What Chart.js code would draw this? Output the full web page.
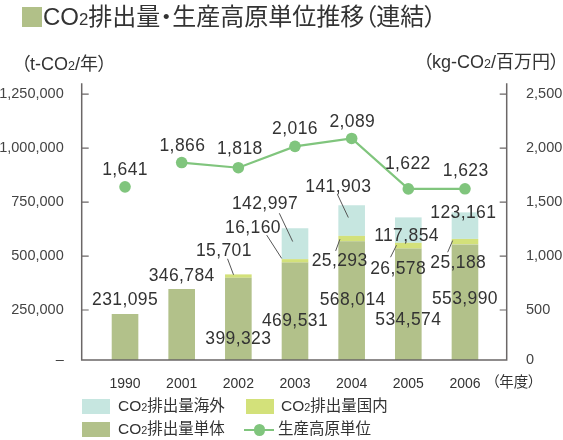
<!DOCTYPE html>
<html>
<head>
<meta charset="utf-8">
<script src="https://cdn.jsdelivr.net/npm/chart.js@4/dist/chart.umd.min.js"></script>
<style>
  html, body { margin: 0; padding: 0; background: #fff; }
  #wrap {
    position: relative; width: 563px; height: 440px; overflow: hidden;
    font-family: "Liberation Sans", "Noto Sans CJK JP", sans-serif; color: #333;
  }
  #chart { position: absolute; left: 0; top: 0; }
  .abs { position: absolute; white-space: nowrap; font-feature-settings: "palt"; }
  .sub { font-size: 0.7em; }
  #title { left: 43px; top: 3px; font-size: 24px; line-height: 28px; }
  #titleMark { left: 22px; top: 7px; width: 20px; height: 20px; background: #b1c088; }
  #unitL { left: 21px; top: 52px; font-size: 18px; line-height: 24px; }
  #unitR { left: 423px; top: 50px; font-size: 18px; line-height: 24px; }
  #unitX { left: 492px; top: 372px; font-size: 14.5px; line-height: 20px; }
  .lg { font-size: 15.5px; line-height: 20px; }
  .sw { position: absolute; width: 28px; height: 15px; }
  .lgLine { position: absolute; width: 30px; height: 2.5px; background: #80c57d; }
  .lgDot { position: absolute; width: 11.5px; height: 11.5px; border-radius: 50%; background: #80c57d; }
</style>
</head>
<body>
<div id="wrap">
  <canvas id="chart" width="563" height="440"></canvas>
  <div class="abs" id="titleMark"></div>
  <div class="abs" id="title">CO<span class="sub">2</span>排出量・生産高原単位推移（連結）</div>
  <div class="abs" id="unitL">（t-CO<span class="sub">2</span>/年）</div>
  <div class="abs" id="unitR">（kg-CO<span class="sub">2</span>/百万円）</div>
  <div class="abs" id="unitX">（年度）</div>

  <div class="sw" style="left:82px;top:399px;background:#c6e6e0"></div>
  <div class="abs lg" style="left:118px;top:396px">CO<span class="sub">2</span>排出量海外</div>
  <div class="sw" style="left:246px;top:399px;background:#d3e17a"></div>
  <div class="abs lg" style="left:281px;top:396px">CO<span class="sub">2</span>排出量国内</div>
  <div class="sw" style="left:82px;top:422px;background:#b2c18a"></div>
  <div class="abs lg" style="left:118px;top:419px">CO<span class="sub">2</span>排出量単体</div>
  <div class="lgLine" style="left:244px;top:428.5px"></div>
  <div class="lgDot" style="left:253.5px;top:424px"></div>
  <div class="abs lg" style="left:278px;top:419px">生産高原単位</div>
</div>

<script>
// Fiscal years on the category axis
const years = ['1990', '2001', '2002', '2003', '2004', '2005', '2006'];

// CO2 emissions (t-CO2/year), stacked from the bottom up
const co2Single   = [231095, 346784, 399323, 469531, 568014, 534574, 553990];
const co2Domestic = [null, null, 15701, 16160, 25293, 26578, 25188];
const co2Overseas = [null, null, null, 142997, 141903, 117854, 123161];

// Emission intensity per production value (kg-CO2 / million yen)
const intensity = [1641, 1866, 1818, 2016, 2089, 1622, 1623];

// Tick values shown on each axis
const leftTicks  = [250000, 500000, 750000, 1000000, 1250000];
const rightTicks = [500, 1000, 1500, 2000, 2500];

// The frame's baseline sits slightly above the zero level of both scales
const LEFT_FLOOR = 18500, LEFT_MAX = 1300000;
const RIGHT_FLOOR = 37, RIGHT_MAX = 2600;

const C_SINGLE = '#b2c18a', C_DOMESTIC = '#d3e17a', C_OVERSEAS = '#c6e6e0', C_LINE = '#80c57d';
const AXIS_COLOR = '#6b6767';
const TEXT = '#333';
const NUM_FONT = '"Liberation Sans", Arial, sans-serif';

// Where each value label goes, relative to its mark (segment top / point, or the baseline)
const labelLayout = [
  { ds: 0, i: 0, at: 'top',  dx: 0,   dy: -14 },
  { ds: 0, i: 1, at: 'top',  dx: 0,   dy: -13 },
  { ds: 0, i: 2, at: 'base', dx: 0,   dy: -21 },
  { ds: 0, i: 3, at: 'base', dx: 0,   dy: -39 },
  { ds: 0, i: 4, at: 'base', dx: 1,   dy: -60 },
  { ds: 0, i: 5, at: 'base', dx: 0,   dy: -40 },
  { ds: 0, i: 6, at: 'base', dx: 0,   dy: -61 },
  { ds: 1, i: 2, at: 'top', dx: -14.5, dy: -23.6, lead: [-10.8, -15.6, -4.8, 0.4] },
  { ds: 1, i: 3, at: 'top', dx: -42,   dy: -31,   lead: [-28.3, -24, -13.3, -0.7] },
  { ds: 1, i: 4, at: 'top', dx: -12,   dy: 25.6,  lead: [-16, 15, -11.7, 3.3] },
  { ds: 1, i: 5, at: 'top', dx: -10.2, dy: 26.7,  lead: [-17.8, 14.4, -11.8, 2.4] },
  { ds: 1, i: 6, at: 'top', dx: -6.7,  dy: 24,    lead: [-17.3, 13.3, -12.3, 1.6] },
  { ds: 2, i: 3, at: 'top', dx: -30,   dy: -24,   lead: [-15.7, -15, -2.3, 13.3] },
  { ds: 2, i: 4, at: 'top', dx: -13.3, dy: -17.7, lead: [-14.3, -11, -3.3, 12.3] },
  { ds: 2, i: 5, at: 'top', dx: -1.8,  dy: 18.4 },
  { ds: 2, i: 6, at: 'top', dx: -1.7,  dy: 0.7 },
  { ds: 3, i: 0, at: 'top', dx: 0,    dy: -17 },
  { ds: 3, i: 1, at: 'top', dx: 0.7,  dy: -16 },
  { ds: 3, i: 2, at: 'top', dx: 1.5,  dy: -18.7 },
  { ds: 3, i: 3, at: 'top', dx: 0,    dy: -16.7 },
  { ds: 3, i: 4, at: 'top', dx: 0.7,  dy: -16 },
  { ds: 3, i: 5, at: 'top', dx: -0.5, dy: -25 },
  { ds: 3, i: 6, at: 'top', dx: 0.7,  dy: -18 }
];

const fmt = v => v.toLocaleString('en-US');

// Open frame: two vertical axes, the baseline, and inward tick marks
const framePlugin = {
  id: 'frame',
  afterDatasetsDraw(chart) {
    const { ctx, chartArea: a, scales } = chart;
    const xl = a.left - 15, xr = a.right + 13.4;
    ctx.save();
    ctx.strokeStyle = AXIS_COLOR;
    ctx.lineWidth = 1.5;
    ctx.beginPath();
    ctx.moveTo(xl, a.top); ctx.lineTo(xl, a.bottom); ctx.lineTo(xr, a.bottom); ctx.lineTo(xr, a.top);
    ctx.stroke();
    ctx.lineWidth = 1.2;
    ctx.beginPath();
    leftTicks.forEach(v => { const y = scales.y.getPixelForValue(v); ctx.moveTo(xl, y); ctx.lineTo(xl + 7, y); });
    rightTicks.forEach(v => { const y = scales.y2.getPixelForValue(v); ctx.moveTo(xr - 7, y); ctx.lineTo(xr, y); });
    ctx.stroke();
    ctx.restore();
  }
};

// Value labels with short leader lines for the thin segments
const valueLabelPlugin = {
  id: 'valueLabels',
  afterDatasetsDraw(chart) {
    const { ctx, chartArea: a } = chart;
    ctx.save();
    ctx.font = '17.5px ' + NUM_FONT;
    if ('letterSpacing' in ctx) ctx.letterSpacing = '0.4px';
    ctx.fillStyle = TEXT;
    ctx.strokeStyle = '#555';
    ctx.lineWidth = 1;
    ctx.textAlign = 'center';
    ctx.textBaseline = 'middle';
    labelLayout.forEach(s => {
      const el = chart.getDatasetMeta(s.ds).data[s.i];
      const v = chart.data.datasets[s.ds].data[s.i];
      if (!el || v == null) return;
      const ax = el.x;
      const ay = s.at === 'base' ? a.bottom : el.y;
      if (s.lead) {
        ctx.beginPath();
        ctx.moveTo(ax + s.lead[0], ay + s.lead[1]);
        ctx.lineTo(ax + s.lead[2], ay + s.lead[3]);
        ctx.stroke();
      }
      ctx.fillText(fmt(v), ax + s.dx, ay + s.dy);
    });
    ctx.restore();
  }
};

const barBase = { type: 'bar', yAxisID: 'y', order: 1, stack: 'co2', borderWidth: 0,
  barPercentage: 0.47, categoryPercentage: 1,
  clip: { left: false, top: false, right: false, bottom: 0 } };

new Chart(document.getElementById('chart'), {
  data: {
    labels: years,
    datasets: [
      Object.assign({ label: 'CO2排出量単体', data: co2Single, backgroundColor: C_SINGLE }, barBase),
      Object.assign({ label: 'CO2排出量国内', data: co2Domestic, backgroundColor: C_DOMESTIC }, barBase),
      Object.assign({ label: 'CO2排出量海外', data: co2Overseas, backgroundColor: C_OVERSEAS }, barBase),
      {
        type: 'line', label: '生産高原単位', data: intensity, yAxisID: 'y2', order: 0,
        borderColor: C_LINE, borderWidth: 2.2, backgroundColor: C_LINE,
        pointBackgroundColor: C_LINE, pointBorderWidth: 0, pointRadius: 5.8,
        tension: 0, clip: false,
        // 1990 stands apart from the continuous 2001–2006 series
        segment: { borderColor: c => c.p0DataIndex === 0 ? 'rgba(0,0,0,0)' : C_LINE }
      }
    ]
  },
  options: {
    responsive: false,
    animation: false,
    events: [],
    layout: { padding: { top: 83.3, left: 0, right: 0, bottom: 0 } },
    plugins: { legend: { display: false }, tooltip: { enabled: false }, title: { display: false } },
    scales: {
      x: {
        type: 'category', offset: true,
        grid: { display: false }, border: { display: false },
        ticks: { color: TEXT, font: { family: NUM_FONT, size: 14 }, padding: 8, maxRotation: 0 },
        afterFit: s => { s.height = 80; }
      },
      y: {
        type: 'linear', position: 'left', stacked: true,
        min: LEFT_FLOOR, max: LEFT_MAX,
        grid: { display: false }, border: { display: false },
        afterBuildTicks: s => { s.ticks = [LEFT_FLOOR].concat(leftTicks).map(v => ({ value: v })); },
        ticks: { color: '#444', font: { family: NUM_FONT, size: 14.5 }, padding: 25,
                 callback: v => v === LEFT_FLOOR ? '–' : fmt(v) },
        afterFit: s => { s.width = 96.7; }
      },
      y2: {
        type: 'linear', position: 'right',
        min: RIGHT_FLOOR, max: RIGHT_MAX,
        grid: { display: false }, border: { display: false },
        afterBuildTicks: s => { s.ticks = [RIGHT_FLOOR].concat(rightTicks).map(v => ({ value: v })); },
        ticks: { color: '#444', font: { family: NUM_FONT, size: 14.5 }, padding: 24.7,
                 callback: v => v === RIGHT_FLOOR ? '0' : fmt(v) },
        afterFit: s => { s.width = 69.7; }
      }
    }
  },
  plugins: [framePlugin, valueLabelPlugin]
});
</script>
</body>
</html>
